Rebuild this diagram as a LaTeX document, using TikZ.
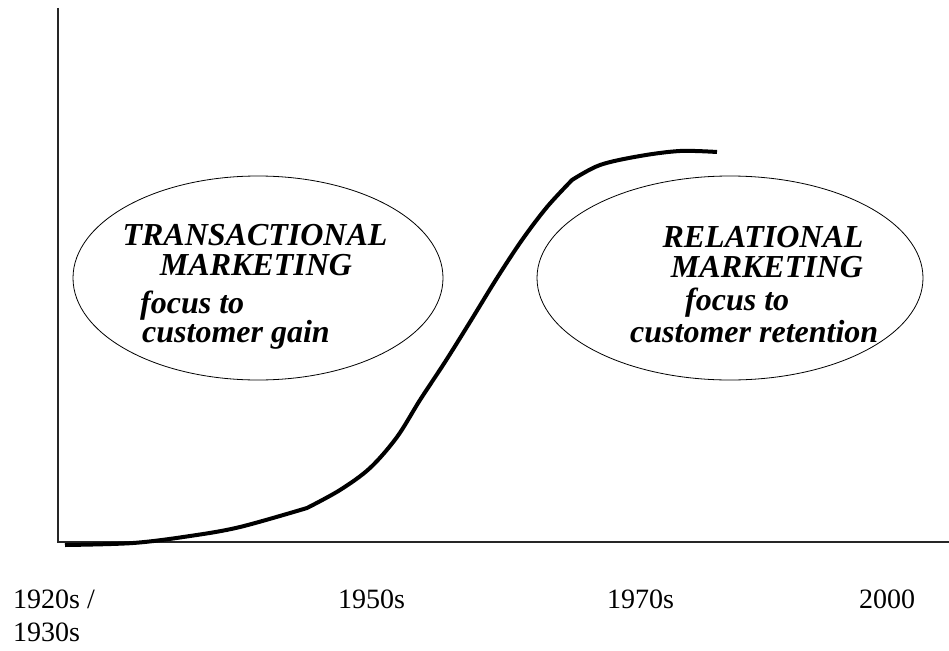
\documentclass[tikz,border=0pt]{standalone}
\usepackage{fontspec}
\setmainfont{Liberation Serif}
\usetikzlibrary{shapes.geometric}
\begin{document}
\begin{tikzpicture}[x=1pt, y=-1pt]

\tikzstyle{era}=[ellipse, draw, line width=0.8pt, inner sep=0pt, minimum height=204pt]
\tikzstyle{headline}=[font=\fontsize{32}{32}\selectfont\bfseries\itshape, inner sep=0pt, anchor=base]
\tikzstyle{focus}=[font=\fontsize{32}{32}\selectfont\bfseries\itshape, inner sep=0pt, anchor=base west]
\tikzstyle{year}=[font=\fontsize{28}{33}\selectfont, inner sep=0pt, anchor=base west, align=left]
\tikzstyle{axis}=[line width=1.4pt, black!85]
\tikzstyle{growth}=[line width=4pt, line join=round]

\useasboundingbox (0,0) rectangle (949,650);

% axes
\coordinate (top) at (58,8);
\coordinate (origin) at (58,542);
\coordinate (xend) at (949,542);
\draw [axis] (top) -- (origin) -- (xend);

% the two eras
\node (trans) [era, minimum width=370pt] at (258,278) {};
\node (rel) [era, minimum width=386pt] at (730,278) {};

\node (transA) [headline] at (255,245) {TRANSACTIONAL};
\node (transB) [headline] at (256,275) {MARKETING};
\node (transC) [focus] at (140,313) {focus to};
\node (transD) [focus] at (142,342) {customer gain};

\node (relA) [headline] at (763,247) {RELATIONAL};
\node (relB) [headline] at (767,277) {MARKETING};
\node (relC) [focus] at (685,310) {focus to};
\node (relD) [focus] at (630,342) {customer retention};

% growth curve
\draw [growth] plot [smooth, tension=0.55] coordinates {
    (65,545) (133,543) (190,536) (240,527) (307,508)}
  -- plot [smooth, tension=0.55] coordinates {
    (307,508) (340,490) (370,468) (397,437) (420,400) (445,362) (470,322)
    (497,278) (522,240) (547,207) (572,180)}
  -- plot [smooth, tension=0.55] coordinates {
    (572,180) (600,165) (640,156) (680,151) (717,152)};

% time line
\node (y1920) [year] at (13,641) {1920s /\\1930s};
\node (y1950) [year] at (338,608) {1950s};
\node (y1970) [year] at (607,608) {1970s};
\node (y2000) [year] at (859,608) {2000};

\end{tikzpicture}
\end{document}
